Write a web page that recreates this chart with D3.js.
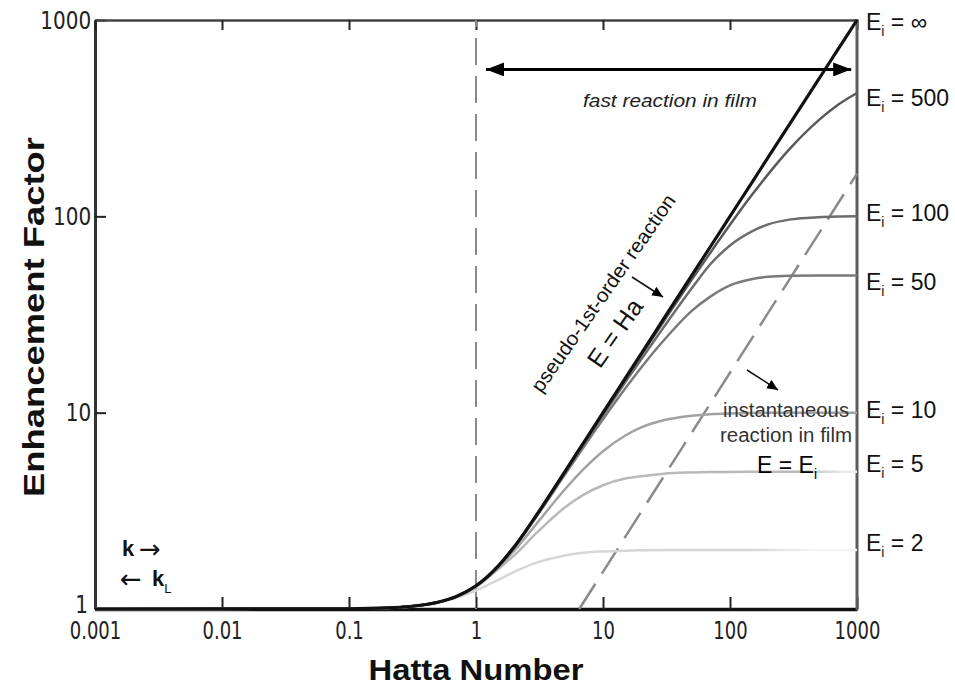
<!DOCTYPE html>
<html><head><meta charset="utf-8">
<script src="https://cdn.jsdelivr.net/npm/d3@7"></script>
<style>body{margin:0;background:#fff}svg{display:block}</style>
</head><body><svg id="chart" width="955" height="691"></svg>
<script>
// ---- data ----
const hatta  = [0.001, 0.1, 0.2, 0.3, 0.5, 0.7, 1, 1.5, 2, 3, 5, 7, 10, 15, 20, 30, 50, 70, 100, 150, 200, 300, 500, 700, 1000];
const eInf   = [1, 1.003, 1.013, 1.03, 1.082, 1.157, 1.313, 1.66, 2.075, 3.015, 5.0, 7.0, 10, 15, 20, 30, 50, 70, 100, 150, 200, 300, 500, 700, 1000];
const e500   = [1, 1.003, 1.013, 1.03, 1.082, 1.157, 1.313, 1.66, 2.074, 3.01, 4.99, 6.97, 9.91, 14.8, 19.6, 29.1, 47.6, 65.3, 90.6, 129.4, 164, 223, 309, 368, 425];
const e100   = [1, 1.003, 1.013, 1.03, 1.082, 1.157, 1.313, 1.66, 2.07, 2.99, 4.93, 6.88, 9.7, 14.3, 18.7, 27.2, 43, 57, 71, 84, 91, 96.5, 99, 99.7, 100];
const e50    = [1, 1.003, 1.013, 1.03, 1.082, 1.157, 1.312, 1.65, 2.055, 2.96, 4.82, 6.65, 9.25, 13.3, 17.0, 23.3, 33, 39, 44.5, 48, 49.2, 49.8, 50, 50, 50];
const e10    = [1, 1.003, 1.013, 1.03, 1.08, 1.155, 1.303, 1.63, 1.98, 2.72, 4.06, 5.14, 6.36, 7.65, 8.41, 9.14, 9.64, 9.82, 9.91, 9.96, 9.98, 10, 10, 10, 10];
const e5     = [1, 1.003, 1.013, 1.03, 1.08, 1.152, 1.292, 1.6, 1.875, 2.44, 3.285, 3.81, 4.27, 4.62, 4.745, 4.89, 4.958, 4.98, 4.99, 5, 5, 5, 5, 5, 5];
const e2     = [1, 1.003, 1.012, 1.028, 1.075, 1.14, 1.24, 1.408, 1.545, 1.722, 1.875, 1.932, 1.963, 1.983, 1.99, 1.996, 2, 2, 2, 2, 2, 2, 2, 2, 2];
const seriesNames = ["∞", "500", "100", "50", "10", "5", "2"];
const xTicks = [0.001, 0.01, 0.1, 1, 10, 100, 1000];
const xTickLabels = ["0.001", "0.01", "0.1", "1", "10", "100", "1000"];
const yTicks = [1, 10, 100, 1000];
const yTickLabels = ["1", "10", "100", "1000"];
const diagHa = [6.5, 1000];
const diagE  = [1, 165];
const regimeHa = 1;

// ---- layout ----
const svg = d3.select("#chart");
svg.append("rect").attr("width", 955).attr("height", 691).attr("fill", "#fff");
const L = 95, R = 857, T = 20, B = 609;
const x = d3.scaleLog().domain([0.001, 1000]).range([L, R]);
const y = d3.scaleLog().domain([1, 1000]).range([B, T]);

const defs = svg.append("defs");
function marker(id, len, half) {
  defs.append("marker").attr("id", id).attr("markerUnits", "userSpaceOnUse")
    .attr("markerWidth", len).attr("markerHeight", half * 2)
    .attr("refX", len).attr("refY", half).attr("orient", "auto-start-reverse")
    .append("path").attr("d", `M0,0L${len},${half}L0,${half * 2}Z`).attr("fill", "#000");
}
marker("bigHead", 18, 7);
marker("smallHead", 11, 5);

function fadeGrad(id, from, to, c1, c2) {
  const g = defs.append("linearGradient").attr("id", id).attr("gradientUnits", "userSpaceOnUse")
    .attr("x1", x(from)).attr("x2", x(to)).attr("y1", 0).attr("y2", 0);
  g.append("stop").attr("offset", 0).attr("stop-color", c1);
  g.append("stop").attr("offset", 1).attr("stop-color", c2);
}
fadeGrad("fade2", 150, 450, "#d6d6d6", "#f3f3f3");
fadeGrad("fade5", 350, 800, "#b9b9b9", "#ececec");

// ---- axes ----
const tickFont = "'DejaVu Sans', 'Liberation Sans', sans-serif";
const gx = svg.append("g").attr("transform", `translate(0,${B})`)
  .call(d3.axisBottom(x).tickValues(xTicks).tickFormat((d, i) => xTickLabels[i]).tickSize(-12).tickSizeOuter(0).tickPadding(12));
const gy = svg.append("g").attr("transform", `translate(${L},0)`)
  .call(d3.axisLeft(y).tickValues(yTicks).tickFormat((d, i) => yTickLabels[i]).tickSize(-11).tickSizeOuter(0).tickPadding(6));
const gt = svg.append("g").attr("transform", `translate(0,${T})`)
  .call(d3.axisTop(x).tickValues(xTicks).tickFormat("").tickSize(-10).tickSizeOuter(0));
[gx, gy, gt].forEach(g => {
  g.selectAll(".tick line").attr("stroke", "#222").attr("stroke-width", 2);
  g.selectAll("text").attr("font-family", tickFont).attr("font-size", 25).attr("fill", "#222");
});
gx.selectAll("text").attr("transform", "scale(0.72,1)");
gy.selectAll("text").attr("transform", "scale(0.8,1)").attr("dx", "0.05em");
// the "1" on the y axis sits a little higher and further left, as in the reference
gy.selectAll(".tick").filter(d => d === 1).select("text").attr("y", -5).attr("x", -10);
gx.select(".domain").attr("stroke", "#111").attr("stroke-width", 3.5);
gy.select(".domain").attr("stroke", "#333").attr("stroke-width", 3);
gt.select(".domain").attr("stroke", "#444").attr("stroke-width", 2.5);
svg.append("line").attr("x1", R).attr("x2", R).attr("y1", T - 1).attr("y2", B + 1)
  .attr("stroke", "#5c5c5c").attr("stroke-width", 3);

// ---- dashed guide lines ----
svg.append("line").attr("x1", x(regimeHa)).attr("x2", x(regimeHa)).attr("y1", T).attr("y2", B)
  .attr("stroke", "#8a8a8a").attr("stroke-width", 2).attr("stroke-dasharray", "27,11").attr("stroke-dashoffset", 20);
svg.append("line").attr("x1", x(diagHa[0])).attr("y1", y(diagE[0])).attr("x2", x(diagHa[1])).attr("y2", y(diagE[1]))
  .attr("stroke", "#8a8a8a").attr("stroke-width", 2.5).attr("stroke-dasharray", "30,12");

// ---- curves ----
const series = [
  { v: e2,   c: "url(#fade2)", w: 2.5 },
  { v: e5,   c: "url(#fade5)", w: 2.5 },
  { v: e10,  c: "#a2a2a2", w: 2.5 },
  { v: e50,  c: "#7a7a7a", w: 2.5 },
  { v: e100, c: "#6c6c6c", w: 2.5 },
  { v: e500, c: "#595959", w: 2.5 },
  { v: eInf, c: "#111",    w: 3.2 }
];
const line = d3.line().x(d => x(d[0])).y(d => y(d[1])).curve(d3.curveMonotoneX);
series.forEach(s => {
  svg.append("path").datum(hatta.map((h, i) => [h, s.v[i]]))
    .attr("d", line).attr("fill", "none").attr("stroke", s.c).attr("stroke-width", s.w)
    .attr("stroke-linejoin", "round");
});

// ---- right-hand labels ----
const labelVals = [eInf, e500, e100, e50, e10, e5, e2].map(a => a[a.length - 1]);
const labelNudge = [2, 5, -3, 7, -3, -8, -7];
labelVals.forEach((v, i) => {
  const t = svg.append("text").attr("x", 866).attr("y", y(v) + labelNudge[i] + 8)
    .attr("font-family", "'Liberation Sans', Arial, sans-serif").attr("font-size", 23).attr("fill", "#111");
  t.append("tspan").text("E");
  t.append("tspan").attr("dy", 6).attr("font-size", 14).text("i");
  t.append("tspan").attr("dy", -6).text(" = " + seriesNames[i]);
});

// ---- annotations ----
const sans = "'Liberation Sans', Arial, sans-serif";
const arrowY = y(560);
svg.append("line").attr("x1", x(1.2)).attr("x2", x(900)).attr("y1", arrowY).attr("y2", arrowY)
  .attr("stroke", "#000").attr("stroke-width", 3)
  .attr("marker-start", "url(#bigHead)").attr("marker-end", "url(#bigHead)");
svg.append("text").attr("x", 670).attr("y", 107).attr("text-anchor", "middle")
  .attr("font-family", sans).attr("font-size", 19).attr("font-style", "italic").attr("fill", "#222")
  .attr("textLength", 174).attr("lengthAdjust", "spacingAndGlyphs")
  .text("fast reaction in film");

svg.append("text").attr("transform", "translate(609,297) rotate(-55)").attr("text-anchor", "middle")
  .attr("font-family", sans).attr("font-size", 20).attr("fill", "#111")
  .attr("textLength", 236).attr("lengthAdjust", "spacingAndGlyphs").text("pseudo-1st-order reaction");
svg.append("text").attr("transform", "translate(622,338) rotate(-55)").attr("text-anchor", "middle")
  .attr("font-family", sans).attr("font-size", 25).attr("fill", "#111").text("E = Ha");
svg.append("line").attr("x1", 632).attr("y1", 277).attr("x2", 663).attr("y2", 297)
  .attr("stroke", "#111").attr("stroke-width", 1.5).attr("marker-end", "url(#smallHead)");
svg.append("line").attr("x1", 747).attr("y1", 370).attr("x2", 778).attr("y2", 390)
  .attr("stroke", "#111").attr("stroke-width", 1.5).attr("marker-end", "url(#smallHead)");

svg.append("text").attr("x", 786).attr("y", 417).attr("text-anchor", "middle")
  .attr("font-family", sans).attr("font-size", 20).attr("fill", "#333")
  .attr("textLength", 126).attr("lengthAdjust", "spacingAndGlyphs").text("instantaneous");
svg.append("text").attr("x", 786).attr("y", 442).attr("text-anchor", "middle")
  .attr("font-family", sans).attr("font-size", 20).attr("fill", "#333")
  .attr("textLength", 132).attr("lengthAdjust", "spacingAndGlyphs").text("reaction in film");
const eq = svg.append("text").attr("x", 757).attr("y", 473)
  .attr("font-family", sans).attr("font-size", 23).attr("fill", "#000");
eq.append("tspan").text("E = E");
eq.append("tspan").attr("dy", 6).attr("font-size", 14).text("i");

// k -> / <- kL
svg.append("text").attr("x", 122).attr("y", 556).attr("font-family", sans).attr("font-size", 22)
  .attr("font-weight", "bold").attr("fill", "#111").text("k");
svg.append("text").attr("x", 139).attr("y", 558).attr("font-family", "'DejaVu Sans', sans-serif").attr("font-size", 26)
  .attr("fill", "#111").text("→");
svg.append("text").attr("x", 120).attr("y", 588).attr("font-family", "'DejaVu Sans', sans-serif").attr("font-size", 26)
  .attr("fill", "#111").text("←");
const kl = svg.append("text").attr("x", 152).attr("y", 586).attr("font-family", sans).attr("font-size", 22)
  .attr("font-weight", "bold").attr("fill", "#111");
kl.append("tspan").text("k");
kl.append("tspan").attr("dy", 7).attr("font-size", 13).attr("font-weight", "normal").text("L");

// axis titles
svg.append("text").attr("x", 476).attr("y", 680).attr("text-anchor", "middle")
  .attr("font-family", sans).attr("font-size", 30).attr("font-weight", "bold").attr("fill", "#111")
  .attr("textLength", 215).attr("lengthAdjust", "spacingAndGlyphs").text("Hatta Number");
svg.append("text").attr("transform", "translate(44,317) rotate(-90)").attr("text-anchor", "middle")
  .attr("font-family", sans).attr("font-size", 30).attr("font-weight", "bold").attr("fill", "#111")
  .attr("textLength", 360).attr("lengthAdjust", "spacingAndGlyphs").text("Enhancement Factor");
</script></body></html>
